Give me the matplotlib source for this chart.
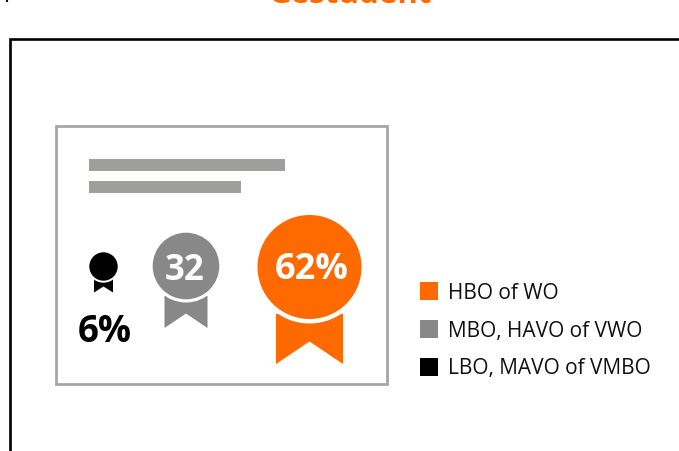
import matplotlib
matplotlib.use("Agg")
import matplotlib.pyplot as plt
from matplotlib.patches import Circle, Polygon, Rectangle

W, H = 679, 452

title = "Gestudent"
categories = ["HBO of WO", "MBO, HAVO of VWO", "LBO, MAVO of VMBO"]
values = [62, 32, 6]
value_labels = ["62%", "32", "6%"]
colors = ["#FF6A00", "#888888", "#000000"]

fig = plt.figure(figsize=(W / 100, H / 100), dpi=100)
ax = fig.add_axes([0, 0, 1, 1])
ax.set_xlim(0, W)
ax.set_ylim(H, 0)
ax.axis("off")

# outer frame
ax.plot([9.7, 9.7, W + 5], [H + 5, 40, 40], color="black", lw=1.9, solid_joinstyle="miter")
ax.plot([7, 7], [-2, 2], color="black", lw=1.5)

# title (clipped by the top of the figure)
ax.text(350, 3, title, color="#FF6A00", fontsize=22.5, fontweight="bold",
        family="Open Sans", ha="center", va="baseline", clip_on=True)

# certificate
ax.add_patch(Rectangle((55.7, 127), 331.6, 258, fc="white", ec="#A6A6A6", lw=2.0))
ax.add_patch(Rectangle((89, 159.6), 196, 12, fc="#9E9E9C", ec="none"))
ax.add_patch(Rectangle((89, 181.6), 152, 12, fc="#9E9E9C", ec="none"))

# badge layout: one entry per category
cx = [309.5, 186, 103.5]
cy = [268, 267, 267.5]
radius = [52, 33.3, 14.2]
rib_half = [33.5, 21.5, 9.5]
rib_top = [315, 297, 279]
rib_bottom = [365, 329, 293.5]
rib_notch = [342.5, 314.5, 287.5]
gap = [4.5, 3.2, 2]
label_xy = [(312, 270.5), (184.5, 271), (104.5, 332)]
label_size = [26, 25, 26.5]
label_color = ["white", "white", "black"]

for i, v in enumerate(values):
    ax.add_patch(Polygon([(cx[i] - rib_half[i], rib_top[i]), (cx[i] + rib_half[i], rib_top[i]),
                          (cx[i] + rib_half[i], rib_bottom[i]), (cx[i], rib_notch[i]),
                          (cx[i] - rib_half[i], rib_bottom[i])], fc=colors[i], ec="none"))
    ax.add_patch(Circle((cx[i], cy[i]), radius[i] + gap[i], fc="white", ec="none"))
    ax.add_patch(Circle((cx[i], cy[i]), radius[i], fc=colors[i], ec="none"))
    ax.text(*label_xy[i], value_labels[i], color=label_color[i], fontsize=label_size[i],
            fontweight="bold", family="Open Sans", ha="center", va="center")

# legend
leg_y = [292, 330, 367.5]
for y, c, lab in zip(leg_y, colors, categories):
    ax.add_patch(Rectangle((420, y - 9), 18, 18, fc=c, ec="none"))
    ax.text(448, y + 1.5, lab, color="#111111", fontsize=15, family="Open Sans", ha="left", va="center")

fig.savefig("out.png", dpi=100)
